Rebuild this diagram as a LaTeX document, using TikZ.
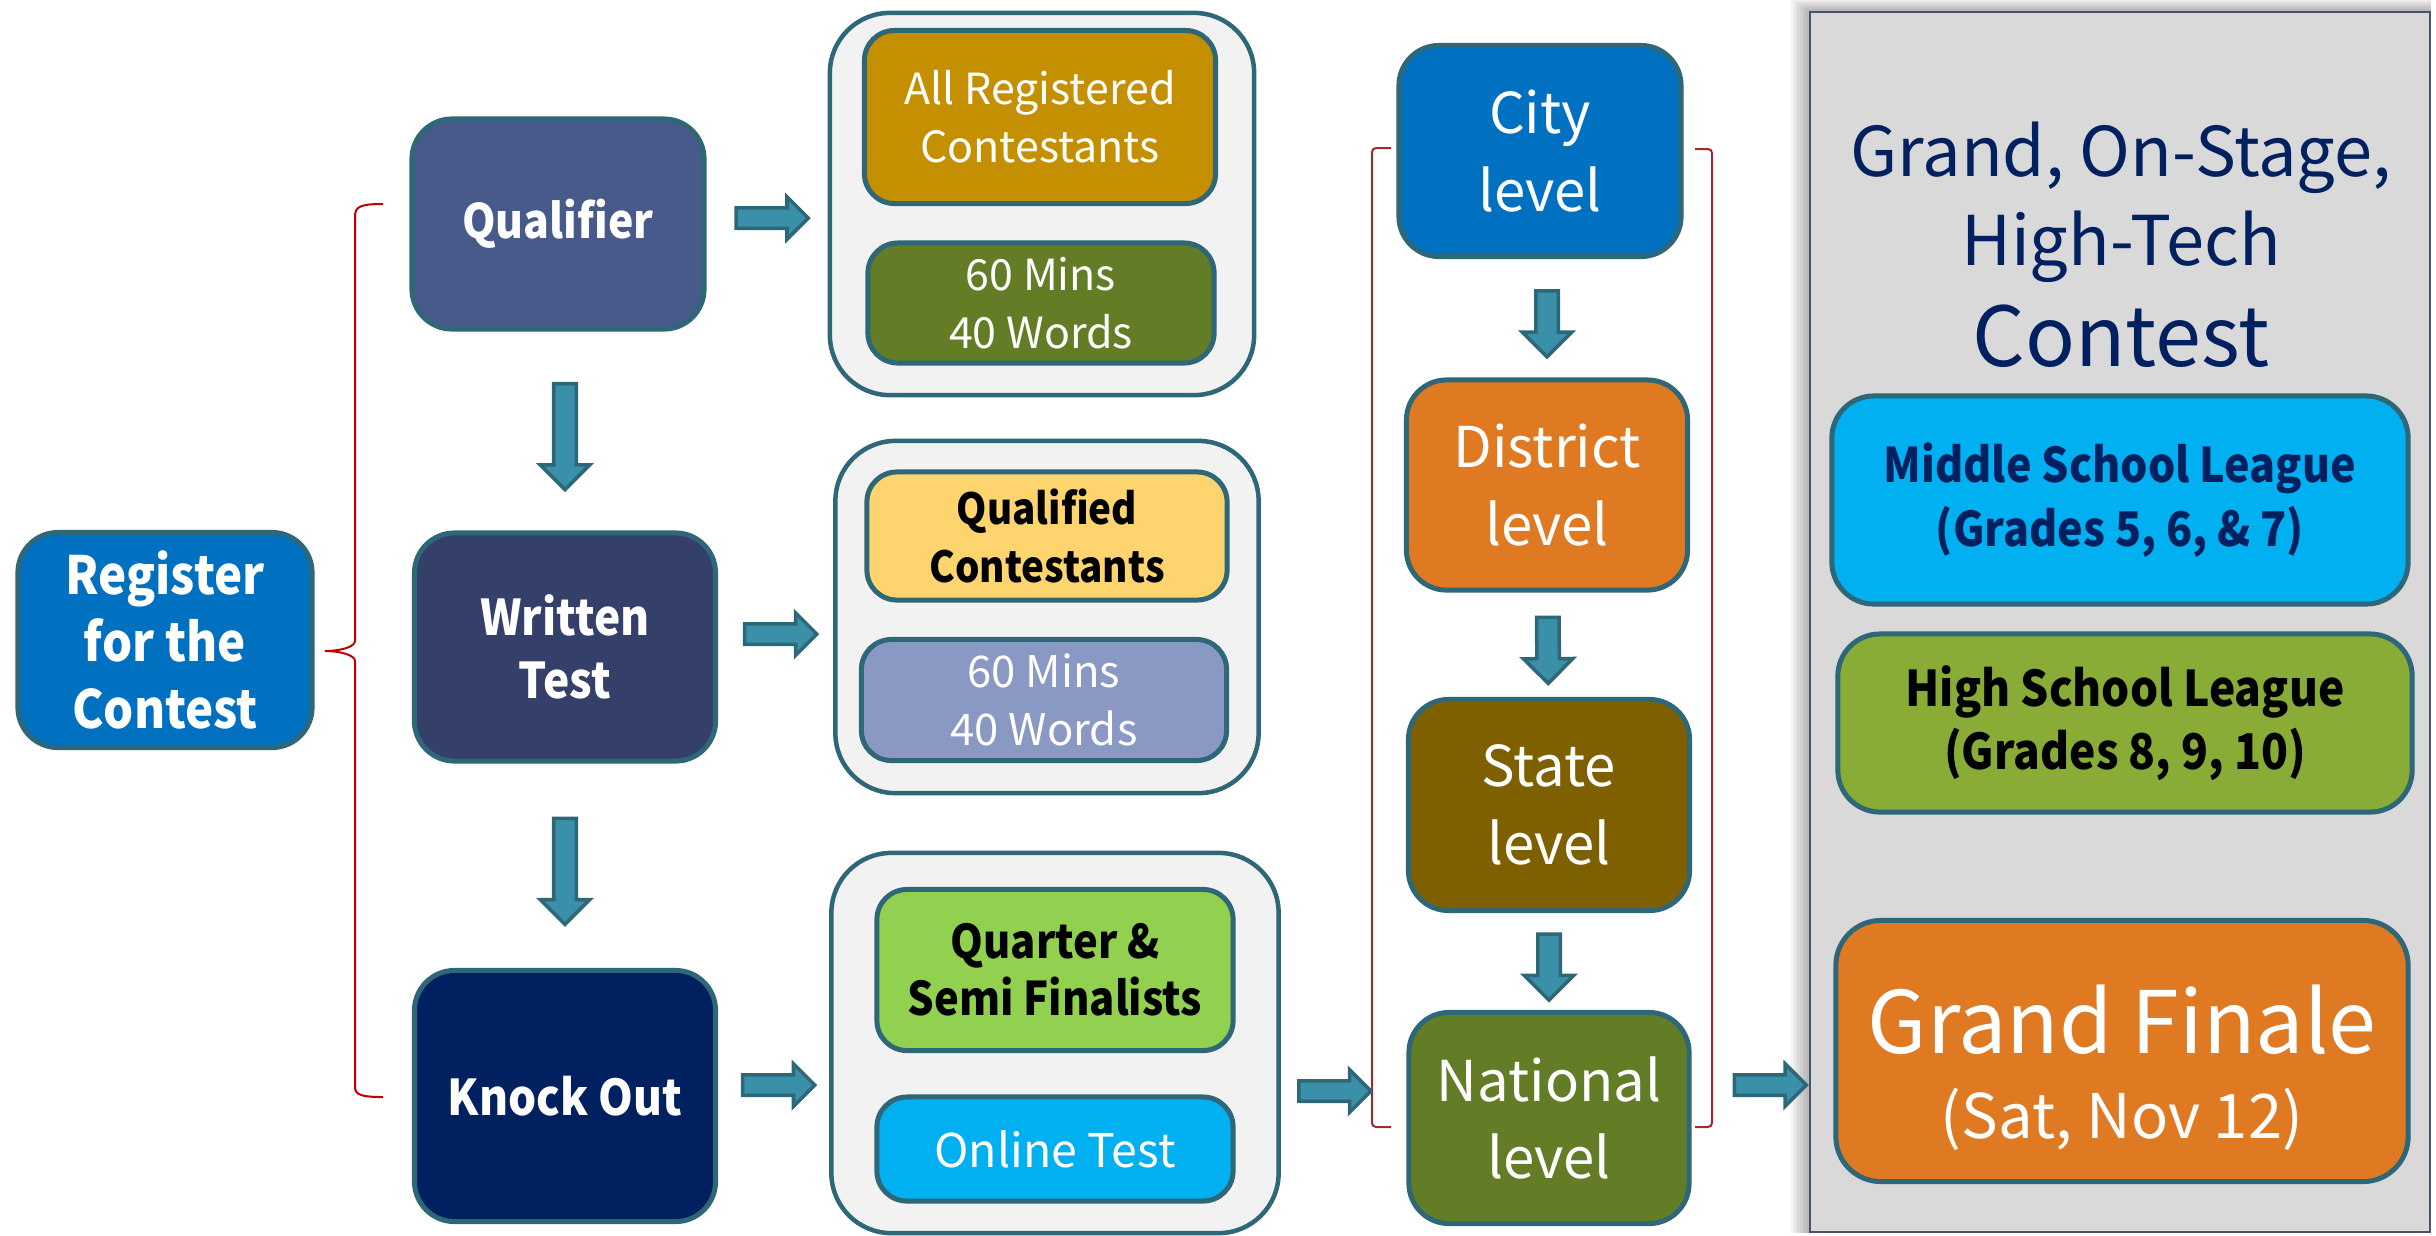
\documentclass[tikz,border=0pt]{standalone}
\usepackage{fontspec}
\setmainfont{Noto Sans CJK JP}[BoldFeatures={FakeStretch=0.9}]
\usepackage{xcolor}
\usepackage{tikz}
\usetikzlibrary{calc,positioning,backgrounds,shapes.arrows}
\definecolor{edgeteal}{HTML}{2E6778}
\definecolor{arrowfill}{HTML}{3A8FA9}
\definecolor{holdfill}{HTML}{F2F2F2}
\definecolor{regblue}{HTML}{0070C0}
\definecolor{qualblue}{HTML}{475A8A}
\definecolor{wtblue}{HTML}{34406A}
\definecolor{konavy}{HTML}{002060}
\definecolor{goldbox}{HTML}{C48F00}
\definecolor{olivebox}{HTML}{637D26}
\definecolor{yellowbox}{HTML}{FDD46E}
\definecolor{lavbox}{HTML}{8A99C3}
\definecolor{limebox}{HTML}{92D050}
\definecolor{cyanbox}{HTML}{00B0F0}
\definecolor{orangebox}{HTML}{E07A22}
\definecolor{brownbox}{HTML}{7F6000}
\definecolor{hsgreen}{HTML}{88AC35}
\definecolor{panelgray}{HTML}{D9D9D9}
\definecolor{panelline}{HTML}{4A5468}
\definecolor{bracered}{HTML}{C00000}
\definecolor{bracketred}{HTML}{9E2A2F}
\newcommand{\boxat}[4][]{\node[stage,#1] (#2) at #3 {#4};}
\newcommand{\flowto}[3][]{\path (#2) -- node[barrow,#1] {} (#3);}
\tikzset{
  stage/.style={draw=edgeteal, line width=0.05cm, rounded corners=0.4cm, text=white, align=center, inner sep=0pt},
  inbox/.style={rounded corners=0.3cm},
  holder/.style={draw=edgeteal, line width=0.045cm, rounded corners=0.6cm, fill=holdfill, inner sep=0pt},
  barrow/.style={single arrow, draw=edgeteal, fill=arrowfill, line width=0.035cm, inner xsep=0pt, inner ysep=0.085cm,
    sloped, allow upside down, minimum height=0.72cm, minimum width=0.40cm, single arrow head extend=0.11cm},
  varrow/.style={inner ysep=0.095cm, minimum height=1.06cm, minimum width=0.47cm, single arrow head extend=0.135cm},
  sarrow/.style={varrow, minimum height=0.66cm},
  titletext/.style={text=konavy, anchor=base, inner sep=0pt},
}
\begin{document}
\begin{tikzpicture}[x=0.01cm,y=-0.01cm]
  \useasboundingbox (0,0) rectangle (2436,1235);
  % left column
  \boxat[fill=regblue, minimum width=2.94cm, minimum height=2.15cm, font=\fontsize{15}{19}\selectfont\bfseries]{reg}{(165,640)}{Register\\for the\\Contest}
  \boxat[fill=qualblue, minimum width=2.92cm, minimum height=2.10cm, font=\fontsize{13.5}{18}\selectfont\bfseries]{qual}{(558,224)}{Qualifier}
  \boxat[fill=wtblue, minimum width=3.01cm, minimum height=2.28cm, font=\fontsize{14}{18}\selectfont\bfseries]{wt}{(565,647)}{Written\\Test}
  \boxat[fill=konavy, minimum width=3.01cm, minimum height=2.51cm, font=\fontsize{14}{18}\selectfont\bfseries]{ko}{(565,1096)}{Knock Out}
  % containers
  \node[holder, minimum width=4.24cm, minimum height=3.82cm] (hold1) at (1042,204) {};
  \node[holder, minimum width=4.23cm, minimum height=3.52cm] (hold2) at (1047,617) {};
  \node[holder, minimum width=4.47cm, minimum height=3.80cm] (hold3) at (1055,1043) {};
  \boxat[inbox, fill=goldbox, minimum width=3.51cm, minimum height=1.73cm, font=\fontsize{12.2}{16.5}\selectfont]{allreg}{(1040,117)}{All Registered\\Contestants}
  \boxat[inbox, fill=olivebox, minimum width=3.46cm, minimum height=1.20cm, font=\fontsize{12.2}{16.5}\selectfont]{mins1}{(1041,303)}{60 Mins\\40 Words}
  \boxat[inbox, fill=yellowbox, text=black, minimum width=3.60cm, minimum height=1.28cm, font=\fontsize{12.2}{16.5}\selectfont\bfseries]{qcont}{(1047,536)}{Qualified\\Contestants}
  \boxat[inbox, fill=lavbox, minimum width=3.65cm, minimum height=1.21cm, font=\fontsize{12.4}{16.3}\selectfont]{mins2}{(1044,700)}{60 Mins\\40 Words}
  \boxat[inbox, fill=limebox, text=black, minimum width=3.56cm, minimum height=1.61cm, font=\fontsize{13.2}{16.3}\selectfont\bfseries]{semis}{(1055,970)}{Quarter \&\\Semi Finalists}
  \boxat[inbox, fill=cyanbox, minimum width=3.56cm, minimum height=1.04cm, font=\fontsize{13.2}{16}\selectfont]{online}{(1055,1149)}{Online Test}
  % levels
  \boxat[fill=regblue, minimum width=2.82cm, minimum height=2.11cm, font=\fontsize{16}{22}\selectfont]{city}{(1540,151)}{City\\level}
  \boxat[fill=orangebox, minimum width=2.81cm, minimum height=2.10cm, font=\fontsize{16}{22}\selectfont]{dist}{(1547,485)}{District\\level}
  \boxat[fill=brownbox, minimum width=2.81cm, minimum height=2.11cm, font=\fontsize{16}{22}\selectfont]{state}{(1549,805)}{State\\level}
  \boxat[fill=olivebox, minimum width=2.80cm, minimum height=2.11cm, font=\fontsize{16}{22}\selectfont]{nat}{(1549,1118)}{National\\level}
  % final panel
  \node[draw=panelline, fill=panelgray, line width=0.02cm, minimum width=6.2cm, minimum height=12.2cm, inner sep=0pt] (panel) at (2120,622) {};
  \begin{scope}[on background layer]
    \foreach \g in {1,...,6}
      \fill[black, opacity=0.05] ([xshift=-\g*0.03cm, yshift=\g*0.02cm]panel.north west) rectangle (panel.south east);
  \end{scope}
  \node[titletext, font=\fontsize{19.5}{19}\selectfont] (tline1) at (2121,176) {Grand, On-Stage,};
  \node[titletext, font=\fontsize{19.5}{19}\selectfont] (tline2) at (2121,265) {High-Tech};
  \node[titletext, font=\fontsize{23.5}{23.5}\selectfont] (tline3) at (2121,366) {Contest};
  \boxat[fill=cyanbox, text=konavy, rounded corners=0.42cm, minimum width=5.76cm, minimum height=2.08cm, font=\fontsize{13.6}{18}\selectfont\bfseries]{msl}{(2120,500)}{Middle School League\\(Grades 5, 6, \& 7)}
  \boxat[fill=hsgreen, text=black, rounded corners=0.42cm, minimum width=5.74cm, minimum height=1.78cm, font=\fontsize{14}{18}\selectfont\bfseries]{hsl}{(2125,723)}{High School League\\(Grades 8, 9, 10)}
  \boxat[fill=orangebox, rounded corners=0.45cm, minimum width=5.72cm, minimum height=2.61cm, font=\fontsize{17.5}{24}\selectfont]{final}{(2122,1051)}{{\fontsize{24.5}{24}\selectfont\rule{0pt}{29pt}Grand Finale}\\(Sat, Nov 12)}
  % braces
  \draw[bracered, line width=0.02cm] (383,204) .. controls (362,204) and (355,206) .. (355,216) -- (355,641)
    .. controls (355,647) and (340,651) .. (325,651) .. controls (340,651) and (355,655) .. (355,661)
    -- (355,1087) .. controls (355,1095) and (362,1097) .. (383,1097);
  \draw[bracketred, line width=0.02cm, rounded corners=0.04cm] (1391,148) -- (1372,148) -- (1372,1127) -- (1391,1127);
  \draw[bracketred, line width=0.02cm, rounded corners=0.04cm] (1695,149) -- (1712,149) -- (1712,1127) -- (1695,1127);
  % arrows
  \flowto[varrow]{qual.south -| wt}{wt.north}
  \flowto[varrow]{wt}{ko}
  \flowto{$(qual.east)+(0,-6)$}{$(qual.east -| hold1.west)+(0,-6)$}
  \flowto{$(wt.east)+(0,-13)$}{$(wt.east -| hold2.west)+(0,-13)$}
  \flowto{$(ko.east)+(0,-11)$}{$(ko.east -| hold3.west)+(0,-11)$}
  \flowto{$(nat.west -| hold3.east)+(0,-27)$}{$(nat.west)+(-28,-27)$}
  \flowto{$(nat.east)+(0,-33)$}{$(nat.east -| panel.west)+(30,-33)$}
  \flowto[sarrow]{city.south -| dist}{dist.north}
  \flowto[sarrow]{dist}{state}
  \flowto[sarrow]{state}{nat}
\end{tikzpicture}
\end{document}
